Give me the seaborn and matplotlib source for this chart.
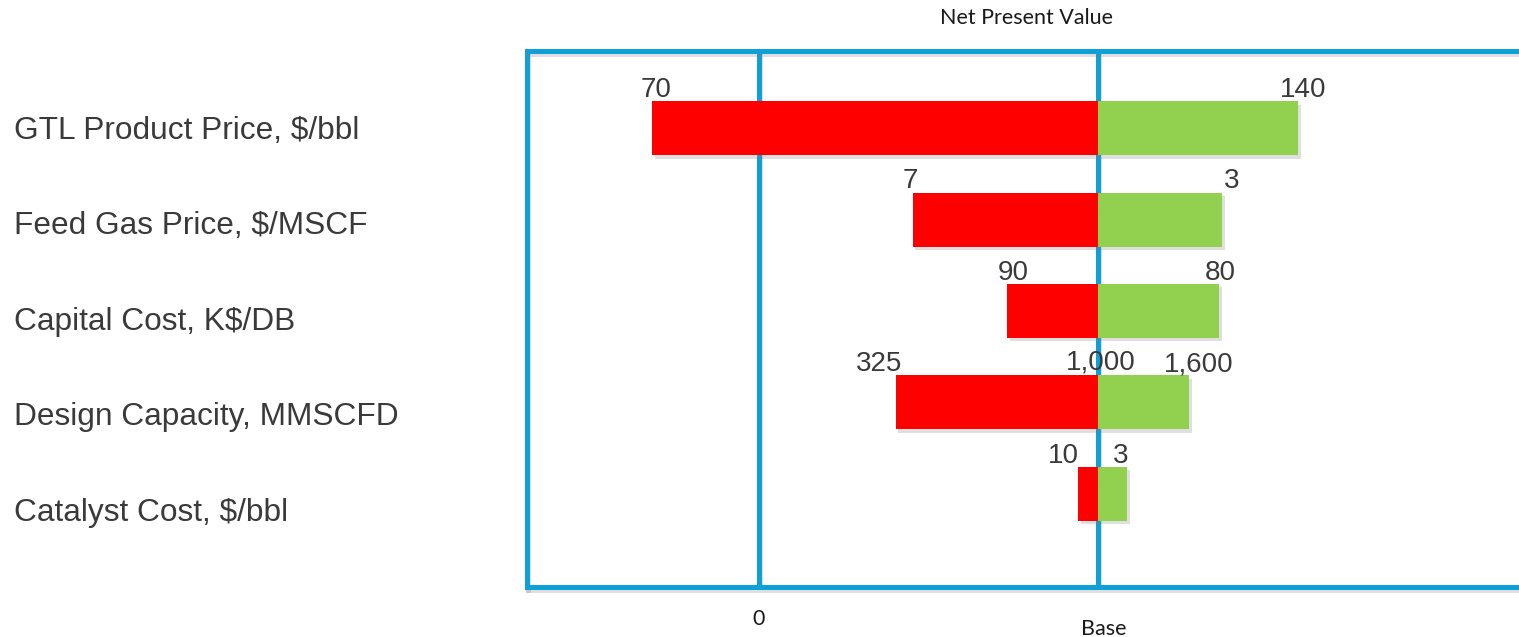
import matplotlib
matplotlib.use("Agg")
import matplotlib.pyplot as plt
import matplotlib.patheffects as pe
from matplotlib.transforms import blended_transform_factory
import pandas as pd
import seaborn as sns

# Sensitivity of net present value (index, base case = 100) to each input
categories = [
    "GTL Product Price, $/bbl",
    "Feed Gas Price, $/MSCF",
    "Capital Cost, K$/DB",
    "Design Capacity, MMSCFD",
    "Catalyst Cost, $/bbl",
]
base_npv = 100.0
npv_low_case = [-31.5, 45.3, 73.2, 40.3, 94.1]
npv_high_case = [158.8, 136.5, 135.6, 126.8, 108.5]

# Input values behind each case
low_case_inputs = ["70", "7", "90", "325", "10"]
high_case_inputs = ["140", "3", "80", "1,600", "3"]
base_case_inputs = ["", "", "", "1,000", ""]

# Axis captions
title_text = "Net Present Value"
zero_label = "0"
base_label = "Base"

# --- styling -------------------------------------------------------------
RED = "#FF0000"
GREEN = "#92D050"
BLUE = "#0EA0D8"
TEXT = "#3a3a3a"
LINE_W = 3.6
BAR_H = 0.59
# horizontal nudges of the value labels (points)
low_nudge = [3, -1.5, 4.5, -12, -10.8]
high_nudge = [3.6, 6.5, 0.7, 6.5, -5]

sns.set_style("white")
plt.rcParams["font.family"] = ["Liberation Sans", "DejaVu Sans"]

df = pd.DataFrame({
    "factor": categories,
    "low": [v - base_npv for v in npv_low_case],
    "high": [v - base_npv for v in npv_high_case],
})

fig = plt.figure(figsize=(15.19, 6.37), dpi=100)
W, H = 1519, 637
ax = fig.add_axes([527 / W, 1 - 587 / H, 1 - 527 / W, (587 - 50.5) / H])

shadow = [pe.SimplePatchShadow(offset=(2.0, -2.5), shadow_rgbFace="#808080", alpha=0.25),
          pe.Normal()]

sns.barplot(data=df, x="low", y="factor", orient="h", color=RED, saturation=1,
            width=BAR_H, ax=ax, zorder=2)
sns.barplot(data=df, x="high", y="factor", orient="h", color=GREEN, saturation=1,
            width=BAR_H, ax=ax, zorder=2)
for p in ax.patches:
    p.set_path_effects(shadow)
    p.set_linewidth(0)

ax.set_xlim((526 - 1098) / 3.4, (1519 - 1098) / 3.4)
ax.set_ylim(5.02, -0.85)
ax.set_xticks([])
ax.set_yticks([])
ax.set_xlabel("")
ax.set_ylabel("")

line_shadow = [pe.SimpleLineShadow(offset=(0.6, -2.2), shadow_color="#808080", alpha=0.25),
               pe.Normal()]
for side in ["left", "top", "bottom"]:
    sp = ax.spines[side]
    sp.set_visible(True)
    sp.set_color(BLUE)
    sp.set_linewidth(LINE_W)
    sp.set_path_effects(line_shadow)
ax.spines["right"].set_visible(False)

# zero-NPV and base-case reference lines
for xv in (-base_npv, 0.0):
    ax.axvline(xv, color=BLUE, lw=LINE_W, zorder=0.5, path_effects=line_shadow)

# value labels above bar ends
for i in range(len(categories)):
    top = i - BAR_H / 2
    ax.annotate(low_case_inputs[i], (df["low"][i], top), xytext=(low_nudge[i], 3),
                textcoords="offset points", ha="center", va="baseline",
                fontsize=20, color=TEXT)
    ax.annotate(high_case_inputs[i], (df["high"][i], top), xytext=(high_nudge[i], 3),
                textcoords="offset points", ha="center", va="baseline",
                fontsize=20, color=TEXT)
    if base_case_inputs[i]:
        ax.annotate(base_case_inputs[i], (0.0, top), xytext=(1.5, 4),
                    textcoords="offset points", ha="center", va="baseline",
                    fontsize=20, color=TEXT)

# axis captions under the frame
small = dict(fontsize=15.5, color="#1a1a1a", family=["Lato", "DejaVu Sans"])
xb = blended_transform_factory(ax.transData, fig.transFigure)
ax.text(-base_npv, 1 - 619 / H, zero_label, transform=xb, ha="center", va="center", **small)
ax.text(0.0 + 1.5, 1 - 629 / H, base_label, transform=xb, ha="center", va="center", **small)
fig.text(1026.5 / W, 1 - 18 / H, title_text, ha="center", va="center", **small)

# factor names down the left side
ax_lab = fig.add_axes([0, 1 - 560.75 / H, 0.34, 477.5 / H])
ax_lab.set_ylim(len(categories) - 0.5, -0.5)
ax_lab.axis("off")
lt = blended_transform_factory(fig.transFigure, ax_lab.transData)
for i, name in enumerate(categories):
    ax_lab.text(14 / W, i, name, transform=lt, ha="left", va="center",
                fontsize=22.8, color=TEXT)

fig.savefig("out.png", dpi=100)
